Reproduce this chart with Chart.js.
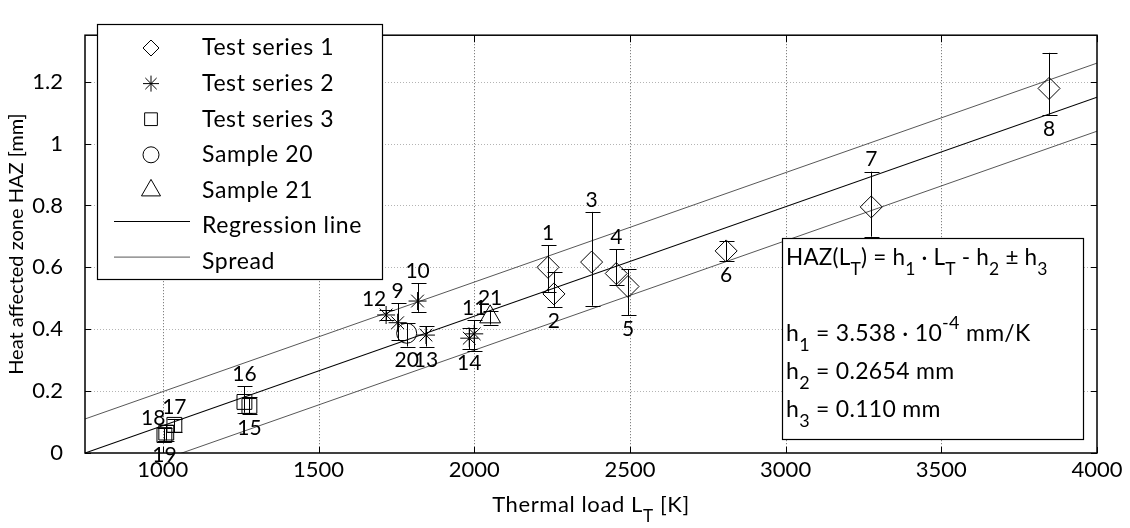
<!DOCTYPE html>
<html><head><meta charset="utf-8">
<script src="https://cdn.jsdelivr.net/npm/chart.js"></script>
<style>html,body{margin:0;padding:0;background:#fff}#wrap{position:relative;width:1130px;height:528px}</style>
</head><body><div id="wrap"><canvas id="c"></canvas></div>
<script>
// ---------------- data ----------------
const xTicks = [1000, 1500, 2000, 2500, 3000, 3500, 4000];
const yTicks = [0, 0.2, 0.4, 0.6, 0.8, 1, 1.2];

// Test series 1 (diamonds)
const ts1Ids  = [1, 2, 3, 4, 5, 6, 7, 8];
const ts1Load = [2237, 2256, 2377, 2456, 2494, 2809, 3275, 3846];
const ts1Haz  = [0.600, 0.514, 0.617, 0.580, 0.538, 0.653, 0.795, 1.178];
const ts1Low  = [0.521, 0.472, 0.476, 0.542, 0.446, 0.620, 0.699, 1.093];
const ts1High = [0.671, 0.585, 0.779, 0.658, 0.593, 0.684, 0.909, 1.293];

// Test series 2 (asterisks)
const ts2Ids  = [9, 10, 11, 12, 13, 14];
const ts2Load = [1754, 1818, 2000, 1717, 1845, 1984];
const ts2Haz  = [0.421, 0.491, 0.385, 0.446, 0.381, 0.371];
const ts2Low  = [0.365, 0.456, 0.330, 0.430, 0.344, 0.335];
const ts2High = [0.484, 0.549, 0.430, 0.462, 0.410, 0.405];

// Test series 3 (squares)
const ts3Ids  = [15, 16, 17, 18, 19];
const ts3Load = [1278, 1262, 1037, 1011, 1005];
const ts3Haz  = [0.152, 0.165, 0.091, 0.066, 0.058];
const ts3Low  = [0.125, 0.130, 0.067, 0.040, 0.038];
const ts3High = [0.180, 0.216, 0.110, 0.091, 0.080];

// Sample 20 (circle), Sample 21 (triangle)
const s20Ids = [20], s20Load = [1783], s20Haz = [0.387], s20Low = [0.344], s20High = [0.420];
const s21Ids = [21], s21Load = [2051], s21Haz = [0.440], s21Low = [0.415], s21High = [0.460];

// Regression constants (from the chart's annotation)
const h1 = 3.538e-4, h2 = 0.2654, h3 = 0.110;
const lineLoads = [750, 4000];

// ---------------- style (label placement) ----------------
const ts1LabelPos = ['above','below','above','above','below','below','above','below'];
const ts2LabelPos = ['above','above','above','aboveLeft','below','below'];
const ts3LabelPos = ['below','above','above','left','below'];
const s20LabelPos = ['below'];
const s21LabelPos = ['above'];

const FONT = 'Lato';
const series = [
  {name:'Test series 1', ids:ts1Ids, load:ts1Load, haz:ts1Haz, lo:ts1Low, hi:ts1High, pos:ts1LabelPos, style:'rectRot', r:11, lr:8},
  {name:'Test series 2', ids:ts2Ids, load:ts2Load, haz:ts2Haz, lo:ts2Low, hi:ts2High, pos:ts2LabelPos, style:'star', r:9, lr:8},
  {name:'Test series 3', ids:ts3Ids, load:ts3Load, haz:ts3Haz, lo:ts3Low, hi:ts3High, pos:ts3LabelPos, style:'rect', r:10.5, lr:9},
  {name:'Sample 20', ids:s20Ids, load:s20Load, haz:s20Haz, lo:s20Low, hi:s20High, pos:s20LabelPos, style:'circle', r:10, lr:8},
  {name:'Sample 21', ids:s21Ids, load:s21Load, haz:s21Haz, lo:s21Low, hi:s21High, pos:s21LabelPos, style:'triangle', r:12, lr:11}
];

const regY = lineLoads.map(l => h1 * l - h2);
const upY = lineLoads.map(l => h1 * l - h2 + h3);
const loY = lineLoads.map(l => h1 * l - h2 - h3);

const datasets = series.map(s => ({
  label: s.name,
  data: s.load.map((l, i) => ({x: l, y: s.haz[i]})),
  pointStyle: s.style,
  pointRadius: s.r,
  pointBorderColor: '#000',
  pointBackgroundColor: 'rgba(0,0,0,0)',
  pointBorderWidth: 1,
  showLine: false,
  order: 0
}));
datasets.push({label:'Regression line', data: lineLoads.map((l,i)=>({x:l,y:regY[i]})), showLine:true, pointRadius:0, borderColor:'#000', borderWidth:1.1, order:1});
datasets.push({label:'Spread', data: lineLoads.map((l,i)=>({x:l,y:upY[i]})), showLine:true, pointRadius:0, borderColor:'#444', borderWidth:0.9, order:1});
datasets.push({label:'Spread lower', data: lineLoads.map((l,i)=>({x:l,y:loY[i]})), showLine:true, pointRadius:0, borderColor:'#444', borderWidth:0.9, order:1});

function drawRich(ctx, segs, x, y, size, align, spacing) {
  const sub = size * 0.78;
  ctx.letterSpacing = (spacing || 0) + 'px';
  const widths = segs.map(([t, m]) => { ctx.font = (m ? sub : size) + 'px ' + FONT; return ctx.measureText(t).width; });
  const total = widths.reduce((a, b) => a + b, 0);
  let cx = align === 'center' ? x - total / 2 : x;
  ctx.textBaseline = 'middle'; ctx.textAlign = 'left';
  segs.forEach(([t, m], i) => {
    ctx.font = (m ? sub : size) + 'px ' + FONT;
    const dy = m === 1 ? size * 0.5 : (m === 2 ? -size * 0.48 : 0);
    ctx.fillText(t, cx, y + dy);
    cx += widths[i];
  });
  ctx.letterSpacing = '0px';
}

const deco = {
  id: 'deco',
  beforeDatasetsDraw(chart) {
    const {ctx, chartArea: a, scales: {x, y}} = chart;
    ctx.save();
    ctx.lineWidth = 1;
    ctx.setLineDash([1, 2]);
    ctx.strokeStyle = '#b4b4b4';
    yTicks.forEach(v => {
      if (v <= 0) return;
      const py = Math.round(y.getPixelForValue(v)) + 0.5;
      ctx.beginPath(); ctx.moveTo(a.left, py); ctx.lineTo(a.right, py); ctx.stroke();
    });
    ctx.strokeStyle = '#666';
    xTicks.forEach(v => {
      if (v >= x.max) return;
      const px = Math.round(x.getPixelForValue(v)) + 0.5;
      ctx.beginPath(); ctx.moveTo(px, a.top); ctx.lineTo(px, a.bottom); ctx.stroke();
    });
    ctx.restore();
  },
  afterDatasetsDraw(chart) {
    const {ctx, scales: {x, y}} = chart;
    ctx.save();
    ctx.strokeStyle = '#000'; ctx.lineWidth = 1;
    series.forEach(s => {
      s.load.forEach((l, i) => {
        const px = Math.round(x.getPixelForValue(l)) + 0.5;
        const pt = y.getPixelForValue(s.hi[i]);
        const pb = y.getPixelForValue(s.lo[i]);
        ctx.beginPath();
        ctx.moveTo(px, pt); ctx.lineTo(px, pb);
        ctx.moveTo(px - 7, Math.round(pt) + 0.5); ctx.lineTo(px + 8, Math.round(pt) + 0.5);
        ctx.moveTo(px - 7, Math.round(pb) + 0.5); ctx.lineTo(px + 8, Math.round(pb) + 0.5);
        ctx.stroke();
      });
    });
    ctx.restore();
  },
  afterDraw(chart) {
    const {ctx, chartArea: a, scales: {x, y}} = chart;
    ctx.save();
    // axes box
    ctx.strokeStyle = '#000'; ctx.lineWidth = 1.5; ctx.setLineDash([]);
    ctx.strokeRect(a.left, a.top, a.right - a.left, a.bottom - a.top);
    // inner ticks
    ctx.lineWidth = 1;
    ctx.beginPath();
    xTicks.forEach(v => {
      const px = Math.round(x.getPixelForValue(v)) + 0.5;
      ctx.moveTo(px, a.bottom); ctx.lineTo(px, a.bottom - 6);
      ctx.moveTo(px, a.top); ctx.lineTo(px, a.top + 7);
    });
    yTicks.forEach(v => {
      const py = Math.round(y.getPixelForValue(v)) + 0.5;
      ctx.moveTo(a.left, py); ctx.lineTo(a.left + 6, py);
      ctx.moveTo(a.right, py); ctx.lineTo(a.right - 6, py);
    });
    ctx.stroke();

    // point number labels
    ctx.fillStyle = '#000';
    series.forEach(s => {
      s.load.forEach((l, i) => {
        const px = x.getPixelForValue(l);
        const pt = y.getPixelForValue(s.hi[i]);
        const pb = y.getPixelForValue(s.lo[i]);
        const pc = y.getPixelForValue(s.haz[i]);
        const pos = s.pos[i];
        let lx = px, ly;
        if (pos === 'above') ly = pt - 12;
        else if (pos === 'below') ly = pb + 14;
        else if (pos === 'aboveLeft') { lx = px - 12; ly = pt - 11; }
        else if (pos === 'left') { lx = px - 13; ly = pc - 14; }
        ctx.font = '21px ' + FONT;
        ctx.textAlign = 'center'; ctx.textBaseline = 'middle';
        ctx.fillText(String(s.ids[i]), lx, ly);
      });
    });

    // legend
    const L = {x: 97.5, y: 24.5, w: 285, h: 255};
    ctx.fillStyle = '#fff'; ctx.fillRect(L.x, L.y, L.w, L.h);
    ctx.strokeStyle = '#000'; ctx.lineWidth = 1.2; ctx.strokeRect(L.x, L.y, L.w, L.h);
    const rowY0 = 48, dy = 35.6, symX = 151, textX = 202;
    ctx.lineWidth = 1;
    series.forEach((s, i) => {
      const ry = rowY0 + i * dy;
      ctx.strokeStyle = '#000'; ctx.fillStyle = 'rgba(0,0,0,0)';
      Chart.helpers.drawPoint(ctx, {pointStyle: s.style, radius: s.lr, rotation: 0, borderWidth: 1}, symX, ry);
      ctx.fillStyle = '#000';
      drawRich(ctx, [[s.name, 0]], textX, ry, 23, 'left', 0.6);
    });
    const lineRows = [['Regression line', '#000', 1.1], ['Spread', '#444', 0.9]];
    lineRows.forEach(([t, c, w], j) => {
      const ry = rowY0 + (series.length + j) * dy;
      ctx.strokeStyle = c; ctx.lineWidth = w;
      ctx.beginPath(); ctx.moveTo(114, ry - 4.5); ctx.lineTo(190, ry - 4.5); ctx.stroke();
      ctx.fillStyle = '#000';
      drawRich(ctx, [[t, 0]], textX, ry, 23, 'left', 0.6);
    });

    // annotation box
    const B = {x: 782.5, y: 238.5, w: 301, h: 201};
    ctx.fillStyle = '#fff'; ctx.fillRect(B.x, B.y, B.w, B.h);
    ctx.strokeStyle = '#000'; ctx.lineWidth = 1.2; ctx.strokeRect(B.x, B.y, B.w, B.h);
    ctx.fillStyle = '#000';
    const tx = 786;
    drawRich(ctx, [['HAZ(L',0],['T',1],[') = h',0],['1',1],[' \u00b7 L',0],['T',1],[' - h',0],['2',1],[' \u00b1 h',0],['3',1]], tx, 258, 22.5, 'left', 0.2);
    drawRich(ctx, [['h',0],['1',1],[' = 3.538 \u00b7 10',0],['-4',2],[' mm/K',0]], tx, 334, 23, 'left', 0.3);
    drawRich(ctx, [['h',0],['2',1],[' = 0.2654 mm',0]], tx, 372, 23, 'left', 0.3);
    drawRich(ctx, [['h',0],['3',1],[' = 0.110 mm',0]], tx, 410, 23, 'left', 0.3);

    // axis titles
    drawRich(ctx, [['Thermal load L',0],['T',1],[' [K]',0]], (a.left + a.right) / 2, 505, 22, 'center', 0.6);
    ctx.save();
    ctx.translate(17, (a.top + a.bottom) / 2);
    ctx.rotate(-Math.PI / 2);
    drawRich(ctx, [['Heat affected zone HAZ [mm]',0]], 0, 0, 20, 'center', 0);
    ctx.restore();
    ctx.restore();
  }
};

function build() {
  new Chart(document.getElementById('c'), {
    type: 'scatter',
    data: {datasets},
    options: {
      responsive: true, maintainAspectRatio: false, animation: false,
      layout: {padding: {left: 0, right: 33, top: 9, bottom: 0}},
      plugins: {legend: {display: false}, tooltip: {enabled: false}},
      scales: {
        x: {
          type: 'linear', min: 750, max: 4000,
          afterBuildTicks: s => { s.ticks = xTicks.map(v => ({value: v})); },
          afterFit: s => { s.height = 75; },
          grid: {display: false, drawTicks: false}, border: {display: false},
          ticks: {color: '#000', font: {family: FONT, size: 22}, padding: 4, autoSkip: false, maxRotation: 0, callback: v => String(v)}
        },
        y: {
          type: 'linear', min: 0, max: 1.35,
          afterBuildTicks: s => { s.ticks = yTicks.map(v => ({value: v})); },
          afterFit: s => { s.width = 85; },
          grid: {display: false, drawTicks: false}, border: {display: false},
          ticks: {color: '#000', font: {family: FONT, size: 22}, padding: 22, callback: v => String(+(+v).toFixed(2))}
        }
      }
    },
    plugins: [deco]
  });
}
if (document.fonts && document.fonts.load) {
  Promise.all([document.fonts.load('22px Lato'), document.fonts.load('20px Lato')]).then(build, build);
} else build();
</script></body></html>
